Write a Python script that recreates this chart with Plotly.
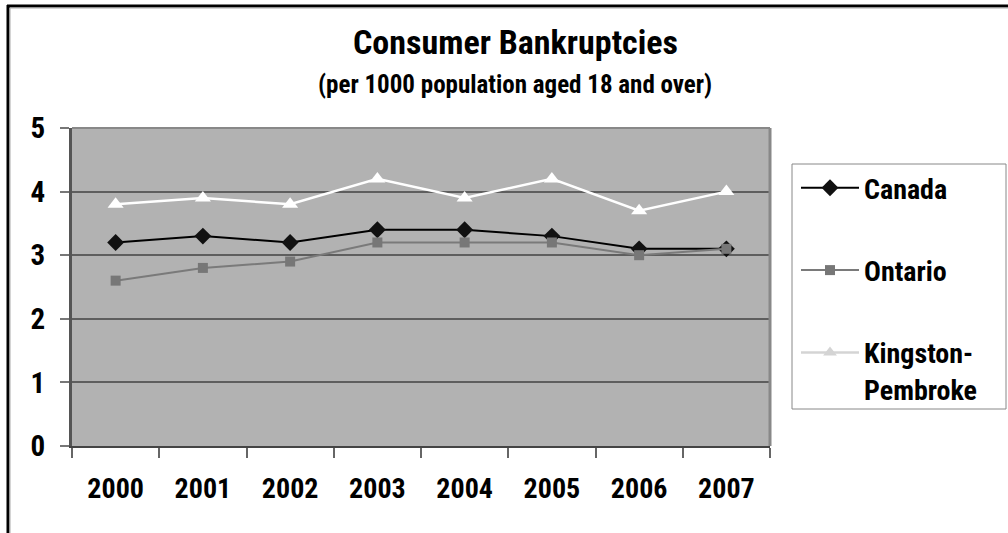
import plotly.graph_objects as go

# Consumer bankruptcies per 1000 population aged 18 and over
years = ["2000", "2001", "2002", "2003", "2004", "2005", "2006", "2007"]
canada = [3.2, 3.3, 3.2, 3.4, 3.4, 3.3, 3.1, 3.1]
ontario = [2.6, 2.8, 2.9, 3.2, 3.2, 3.2, 3.0, 3.1]
kingston_pembroke = [3.8, 3.9, 3.8, 4.2, 3.9, 4.2, 3.7, 4.0]

title_text = "Consumer Bankruptcies"
subtitle_text = "(per 1000 population aged 18 and over)"

FONT = "Roboto Condensed, Liberation Sans Narrow, Roboto, sans-serif"

fig = go.Figure()

fig.add_trace(go.Scatter(
    x=years, y=canada, name="Canada", mode="lines+markers",
    line=dict(color="#000000", width=2),
    marker=dict(symbol="diamond", size=13, color="#111111"),
    legendgroup="a",
))
fig.add_trace(go.Scatter(
    x=years, y=ontario, name="Ontario", mode="lines+markers",
    line=dict(color="#7a7a7a", width=2),
    marker=dict(symbol="square", size=10, color="#777777"),
    legendgroup="b",
))
# white series on the grey plot area; its legend key uses a light grey so it shows on white
fig.add_trace(go.Scatter(
    x=years, y=kingston_pembroke, name="Kingston-<br>Pembroke", mode="lines+markers",
    line=dict(color="#ffffff", width=2.5),
    marker=dict(symbol="triangle-up", size=14, color="#ffffff"),
    showlegend=False,
))
fig.add_trace(go.Scatter(
    x=[None], y=[None], name="Kingston-<br>Pembroke", mode="lines+markers",
    line=dict(color="#d4d4d4", width=2.5),
    marker=dict(symbol="triangle-up", size=12, color="#d4d4d4"),
    legendgroup="c",
))

L, R, T, B = 72, 238, 128, 87
W, H = 1008, 533
pw, ph = W - L - R, H - T - B


def px_x(px):
    return (px - L) / pw


def px_y(py):
    return (H - B - py) / ph


fig.update_layout(
    width=W, height=H,
    margin=dict(l=L, r=R, t=T, b=B, autoexpand=False),
    paper_bgcolor="#ffffff",
    plot_bgcolor="#b2b2b2",
    font=dict(family=FONT, size=28, color="#000000", weight="bold"),
    showlegend=True,
    legend=dict(
        x=px_x(796), y=px_y(163), xanchor="left", yanchor="top",
        bgcolor="rgba(0,0,0,0)", borderwidth=0,
        font=dict(family=FONT, size=28, color="#000000", weight="bold"),
        itemwidth=58, tracegroupgap=43, valign="top",
    ),
    xaxis=dict(
        type="category", range=[-0.5, 7.5], tickson="boundaries",
        showgrid=False, zeroline=False,
        showline=True, linecolor="#444444", linewidth=2,
        ticks="outside", ticklen=10, tickwidth=1.5, tickcolor="#666666",
        tickfont=dict(family=FONT, size=28, color="#000000", weight="bold"),
        ticklabelstandoff=16,
    ),
    yaxis=dict(
        range=[0, 5], dtick=1, tick0=0,
        showgrid=True, gridcolor="#5e5e5e", gridwidth=2,
        zeroline=False,
        showline=True, linecolor="#555555", linewidth=3,
        ticks="outside", ticklen=9, tickwidth=1.5, tickcolor="#777777",
        tickfont=dict(family=FONT, size=29, color="#000000", weight="bold"),
        ticklabelstandoff=9,
    ),
    shapes=[
        # legend box
        dict(type="rect", xref="paper", yref="paper",
             x0=px_x(792), x1=px_x(1006), y0=px_y(409), y1=px_y(164),
             line=dict(color="#888888", width=1), fillcolor="rgba(0,0,0,0)", layer="below"),
        # plot-area frame on top and right
        dict(type="line", xref="paper", yref="paper", x0=1, x1=1, y0=0, y1=1,
             line=dict(color="#888888", width=3)),
        dict(type="line", xref="paper", yref="paper", x0=0, x1=1, y0=1, y1=1,
             line=dict(color="#888888", width=2)),
        # outer frame (top and left edges)
        dict(type="line", xref="paper", yref="paper",
             x0=px_x(8), x1=px_x(8), y0=px_y(545), y1=px_y(5),
             line=dict(color="#000000", width=3)),
        dict(type="line", xref="paper", yref="paper",
             x0=px_x(7), x1=px_x(1015), y0=px_y(6), y1=px_y(6),
             line=dict(color="#000000", width=3)),
        dict(type="line", xref="paper", yref="paper",
             x0=px_x(10), x1=px_x(10), y0=px_y(545), y1=px_y(8),
             line=dict(color="#aaaaaa", width=1)),
        dict(type="line", xref="paper", yref="paper",
             x0=px_x(10), x1=px_x(1015), y0=px_y(8), y1=px_y(8),
             line=dict(color="#aaaaaa", width=1)),
    ],
    annotations=[
        dict(text=title_text, xref="paper", yref="paper",
             x=px_x(515), y=px_y(42), xanchor="center", yanchor="middle",
             showarrow=False,
             font=dict(family=FONT, size=34, color="#000000", weight="bold")),
        dict(text=subtitle_text, xref="paper", yref="paper",
             x=px_x(515), y=px_y(84), xanchor="center", yanchor="middle",
             showarrow=False,
             font=dict(family=FONT, size=25, color="#000000", weight="bold")),
    ],
)

fig.write_html("out.html")
